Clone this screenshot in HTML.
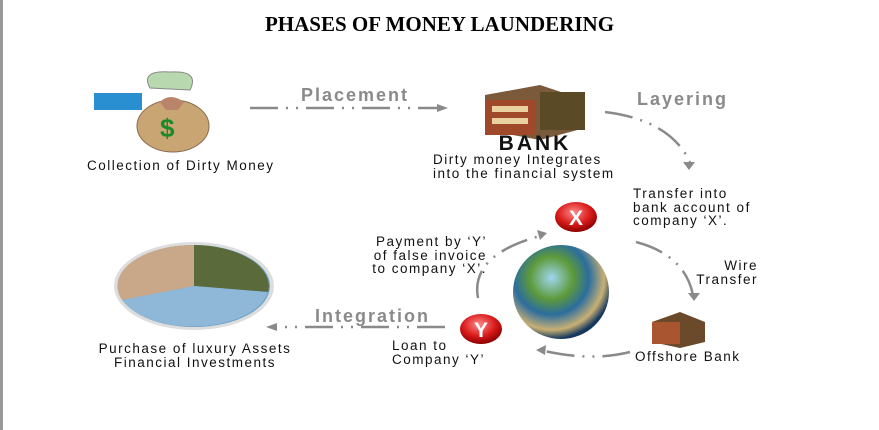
<!DOCTYPE html>
<html><head><meta charset="utf-8"><style>
html,body{margin:0;padding:0;background:#fff;}
body{width:879px;height:430px;position:relative;overflow:hidden;font-family:"Liberation Sans",sans-serif;}
.t{position:absolute;font-size:13.5px;letter-spacing:1.5px;color:#111;line-height:13.5px;white-space:nowrap;}
.lbl{position:absolute;font-size:18px;letter-spacing:2px;font-weight:bold;color:#8a8a8a;}
</style></head><body>
<div style="position:absolute;left:0;top:0;width:3px;height:430px;background:#999"></div>
<div style="position:absolute;left:0;top:12px;width:879px;text-align:center;font-family:'Liberation Serif',serif;font-weight:bold;font-size:21px;">PHASES OF MONEY LAUNDERING</div>

<svg width="879" height="430" style="position:absolute;left:0;top:0">
<defs>
<radialGradient id="g" cx="40%" cy="35%" r="65%"><stop offset="0" stop-color="#9fd6f0"/><stop offset="0.35" stop-color="#5d9a3a"/><stop offset="0.6" stop-color="#2b6d9e"/><stop offset="0.85" stop-color="#c8b074"/><stop offset="1" stop-color="#16385e"/></radialGradient>
<radialGradient id="r" cx="45%" cy="35%" r="65%"><stop offset="0" stop-color="#ff8a8a"/><stop offset="0.6" stop-color="#d91a1a"/><stop offset="1" stop-color="#8c0000"/></radialGradient>
</defs>
<g stroke="#8a8a8a" stroke-width="2.5" fill="none" stroke-dasharray="28 8 2 8 2 8">
<line x1="250" y1="108" x2="440" y2="108"/>
<path d="M605 112 Q670 120 690 162"/>
<path d="M636 242 Q685 255 693 295"/>
<path d="M630 352 Q590 362 540 350"/>
<path d="M478 298 Q470 255 540 236"/>
<line x1="445" y1="327" x2="272" y2="327"/>
</g>
<g fill="#8a8a8a">
<polygon points="448,108 437,104 437,112"/>
<polygon points="689,170 683,162 695,162"/>
<polygon points="694,301 688,293 700,293"/>
<polygon points="536,350 546,345 545,355"/>
<polygon points="547,233 537,230 540,240"/>
<polygon points="266,327 277,323 277,331"/>
</g>
<rect x="94" y="93" width="48" height="17" fill="#2a8fd0"/>
<path d="M150 88 Q140 70 170 72 Q200 70 190 90 Z" fill="#b8d8b0" stroke="#888"/>
<ellipse cx="173" cy="126" rx="36" ry="26" fill="#c9a574" stroke="#8a6a50"/>
<path d="M160 102 Q170 92 184 102 L178 110 L166 110 Z" fill="#b9856a"/>
<text x="160" y="137" font-size="26" font-weight="bold" fill="#1a8a2a" font-family="Liberation Sans">$</text>
<polygon points="485,95 540,85 585,100 585,128 540,140 485,130" fill="#7a5a3a"/>
<rect x="485" y="100" width="50" height="35" fill="#a0492a"/>
<rect x="540" y="92" width="45" height="38" fill="#5a4a25"/>
<rect x="492" y="106" width="36" height="6" fill="#e8d0a0"/>
<rect x="492" y="118" width="36" height="6" fill="#e8d0a0"/>
<text x="535" y="150" font-size="21" font-weight="900" fill="#111" font-family="Liberation Sans" text-anchor="middle" letter-spacing="3">BANK</text>
<polygon points="652,322 680,312 705,322 705,342 680,348 652,342" fill="#6a4a2a"/>
<rect x="652" y="322" width="28" height="22" fill="#a85530"/>
<ellipse cx="561" cy="292" rx="48" ry="47" fill="url(#g)"/>
<ellipse cx="576" cy="217" rx="21" ry="15" fill="url(#r)"/>
<text x="576" y="225" font-size="21" font-weight="bold" fill="#fff" text-anchor="middle" font-family="Liberation Sans">X</text>
<ellipse cx="481" cy="329" rx="21" ry="15" fill="url(#r)"/>
<text x="481" y="337" font-size="21" font-weight="bold" fill="#fff" text-anchor="middle" font-family="Liberation Sans">Y</text>
<ellipse cx="194" cy="286" rx="80" ry="44" fill="#ddd"/>
<ellipse cx="194" cy="286" rx="76" ry="41" fill="#6aa0c8"/>
<path d="M194 286 L194 245 A76 41 0 0 1 268 292 Z" fill="#5a6a3a"/>
<path d="M194 286 L268 292 A76 41 0 0 1 122 300 Z" fill="#8fb8d8"/>
<path d="M194 286 L122 300 A76 41 0 0 1 194 245 Z" fill="#c8a888"/>
</svg>

<div class="lbl" style="left:301px;top:85px">Placement</div>
<div class="lbl" style="left:637px;top:89px">Layering</div>
<div class="lbl" style="left:315px;top:306px">Integration</div>
<div class="t" style="left:87px;top:159px">Collection of Dirty Money</div>
<div class="t" style="left:433px;top:153px">Dirty money Integrates<br>into the financial system</div>
<div class="t" style="left:633px;top:187px">Transfer into<br>bank account of<br>company ‘X’.</div>
<div class="t" style="left:330px;top:235px;text-align:right;width:157px">Payment by ‘Y’<br>of false invoice<br>to company ‘X’.</div>
<div class="t" style="left:660px;top:259px;text-align:right;width:98px">Wire<br>Transfer</div>
<div class="t" style="left:635px;top:350px">Offshore Bank</div>
<div class="t" style="left:392px;top:339px">Loan to<br>Company ‘Y’</div>
<div class="t" style="left:60px;top:342px;width:270px;text-align:center">Purchase of luxury Assets<br>Financial Investments</div>
</body></html>
